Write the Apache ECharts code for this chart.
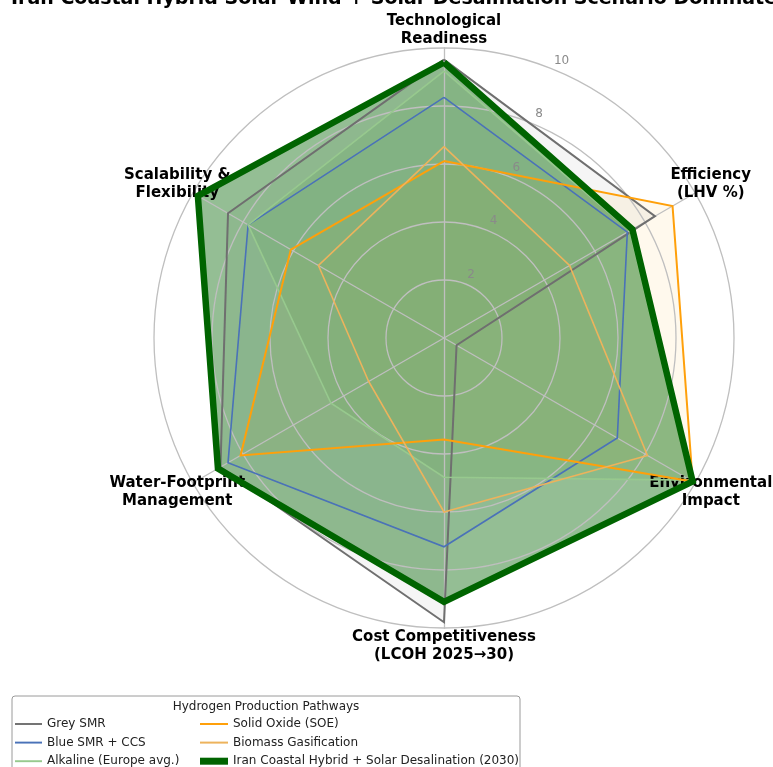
<!DOCTYPE html>
<html>
<head>
<meta charset="utf-8">
<script src="https://cdn.jsdelivr.net/npm/echarts@6/dist/echarts.min.js"></script>
<style>
  html, body { margin: 0; padding: 0; background: #fff; }
  #chart { width: 773px; height: 767px; }
</style>
</head>
<body>
<div id="chart"></div>
<script>
// axes, clockwise from the top as in the picture
var categories = ['Technological\nReadiness', 'Efficiency\n(LHV %)', 'Environmental\nImpact',
  'Cost Competitiveness\n(LCOH 2025\u219230)', 'Water-Footprint\nManagement', 'Scalability &\nFlexibility'];

var greySMR  = [9.6, 8.4, 0.5, 9.8, 8.9, 8.6];
var blueSMR  = [8.3, 7.3, 6.9, 7.2, 8.6, 7.8];
var alkaline = [9.2, 7.4, 9.8, 4.8, 4.5, 7.8];
var soe      = [6.1, 9.1, 9.9, 3.5, 8.1, 6.1];
var biomass  = [6.6, 5.0, 8.1, 6.0, 3.0, 5.0];
var iran     = [9.5, 7.5, 9.9, 9.1, 9.0, 9.8];

var names = ['Grey SMR', 'Blue SMR + CCS', 'Alkaline (Europe avg.)',
  'Solid Oxide (SOE)', 'Biomass Gasification', 'Iran Coastal Hybrid + Solar Desalination (2030)'];
var rTicks = [2, 4, 6, 8, 10];
var rMax = 10;

// styles
var colors = ['#6f6f6f', '#4a72b8', '#97c98e', '#ffa00a', '#edb35c', '#006400'];
var widths = [2, 1.6, 1.6, 2, 1.6, 6.5];
var fills = ['rgba(128,128,128,0.08)', 'rgba(74,114,184,0.04)', 'rgba(150,205,140,0.15)',
  'rgba(255,165,0,0.07)', 'rgba(237,179,92,0.06)', 'rgba(0,100,0,0.42)'];

var allValues = [greySMR, blueSMR, alkaline, soe, biomass, iran];

// echarts puts radar indicators counter-clockwise, the picture runs clockwise
var order = [0, 5, 4, 3, 2, 1];
function reorder(arr) { return order.map(function (i) { return arr[i]; }); }

var cx = 444, cy = 338, R = 290;
var font = 'DejaVu Sans';

var lineData = [], fillData = [];
names.forEach(function (n, i) {
  lineData.push({
    name: n, value: reorder(allValues[i]),
    itemStyle: { color: colors[i] },
    lineStyle: { color: colors[i], width: widths[i], join: 'miter' }
  });
  fillData.push({
    name: n, value: reorder(allValues[i]),
    itemStyle: { color: colors[i] },
    lineStyle: { opacity: 0 },
    areaStyle: { color: fills[i], opacity: 1 }
  });
});

function icon(h) { return 'path://M0,0h28v' + h + 'h-28z'; }
function legendItems(from, to) {
  var out = [];
  for (var i = from; i < to; i++) {
    out.push({ name: names[i], icon: icon(widths[i] > 3 ? 7 : 2), itemStyle: { color: colors[i] } });
  }
  return out;
}

// r tick labels along a ray 23 deg right of the top axis
var tickGraphics = rTicks.map(function (t) {
  var r = t / rMax * R + 11;
  var a = 23 * Math.PI / 180;
  return {
    type: 'text', x: cx + r * Math.sin(a), y: cy - r * Math.cos(a), z: 10,
    style: { text: String(t), fill: '#8a8a8a', font: '12px "' + font + '"', align: 'center', verticalAlign: 'middle' }
  };
});

var legendBase = {
  orient: 'vertical', top: 717, height: 70, padding: 0,
  itemWidth: 27, itemHeight: 14, itemGap: 4.6,
  textStyle: { fontFamily: font, fontSize: 12, color: '#222', lineHeight: 14 }
};

var myChart = echarts.init(document.getElementById('chart'));
var option = {
  animation: false,
  title: [
    {
      text: 'Iran Coastal Hybrid Solar-Wind + Solar Desalination Scenario Dominates Across All Metrics',
      left: 11, top: -10, padding: 0,
      textStyle: { fontFamily: font, fontSize: 19, fontWeight: 'bold', color: '#000' }
    },
    {
      text: 'Hydrogen Production Pathways',
      left: 266, top: 701, padding: 0, textAlign: 'center',
      textStyle: { fontFamily: font, fontSize: 12, fontWeight: 'normal', color: '#222' }
    }
  ],
  legend: [
    echarts.util.merge({ data: legendItems(0, 3), left: 15, itemTextGap: 8 }, legendBase),
    echarts.util.merge({ data: legendItems(3, 6), left: 200, itemWidth: 28, itemTextGap: 6 }, legendBase)
  ],
  radar: {
    center: [cx, cy], radius: R, z: 2,
    shape: 'circle', splitNumber: 5, startAngle: 90,
    indicator: reorder(categories).map(function (c) { return { name: c, min: 0, max: rMax }; }),
    nameGap: 18,
    axisName: {
      color: '#000', fontFamily: font, fontSize: 15, fontWeight: 'bold',
      align: 'center', verticalAlign: 'middle', lineHeight: 18
    },
    splitArea: { show: false },
    splitLine: { lineStyle: { color: '#bfbfbf', width: 1.3 } },
    axisLine: { lineStyle: { color: '#bfbfbf', width: 1.3 } },
    axisTick: { show: false },
    axisLabel: { show: false }
  },
  graphic: [
    {
      type: 'rect', shape: { x: 12, y: 696, width: 508, height: 90, r: 3 }, z: 0,
      style: { fill: '#fff', stroke: '#9a9a9a', lineWidth: 1 }
    }
  ].concat(tickGraphics),
  series: [
    { type: 'radar', z: 3, symbol: 'none', silent: true, data: lineData },
    { type: 'radar', z: 1, symbol: 'none', silent: true, data: fillData }
  ]
};
myChart.setOption(option);
</script>
</body>
</html>
